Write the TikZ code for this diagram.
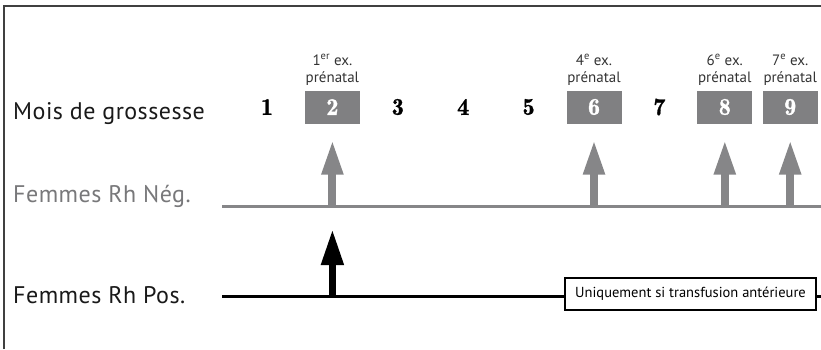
\documentclass[tikz,border=0pt]{standalone}
\usepackage{fontspec}
\newfontfamily\labelfont{PT Sans}
\newfontfamily\labelwide[LetterSpace=2]{PT Sans}
\newfontfamily\numfont[FakeBold=1.2]{Latin Modern Roman Demi}
\usetikzlibrary{positioning, arrows.meta}
\definecolor{boxgray}{RGB}{128,128,130}
\definecolor{neggray}{RGB}{134,134,136}
\definecolor{textgray}{RGB}{120,120,122}

\begin{document}
\begin{tikzpicture}[
    x=1pt, y=-1pt,
    month/.style={font=\numfont\fontsize{24}{24}\selectfont, minimum width=55pt, minimum height=33pt, inner sep=0pt},
    exam/.style={month, fill=boxgray, text=white},
    examnote/.style={font=\labelfont\fontsize{15}{17}\selectfont, align=center, text=black!80, inner sep=0pt},
    rowlabel/.style={font=\labelwide\fontsize{24}{24}\selectfont, anchor=base west, inner sep=0pt},
    negline/.style={draw=neggray, line width=3pt},
    posline/.style={draw=black, line width=3pt},
    negarrow/.style={draw=neggray, line width=8pt, -{Triangle[width=20pt, length=35pt]}},
    posarrow/.style={draw=black, line width=7.5pt, -{Triangle[width=21pt, length=36pt]}},
    notebox/.style={draw, line width=1.2pt, fill=white, minimum width=251pt, minimum height=32pt, font=\labelfont\fontsize{14.5}{17}\selectfont}
  ]
  \useasboundingbox (0,0) rectangle (821,349);
  \draw[black!75, line width=1.5pt] (4,349) -- (4,6) -- (821,6); % frame

  % row labels
  \node[rowlabel, text=black!90] (moislbl) at (13,119) {Mois de grossesse};
  \node[rowlabel, text=textgray] (neglbl) at (13,202) {Femmes Rh Nég.};
  \node[rowlabel, text=black!90] (poslbl) at (13,303) {Femmes Rh Pos.};

  % months of pregnancy
  \node[month] (m1) at (267,107) {1};
  \node[exam, right=10pt of m1] (m2) {2};
  \node[month, right=10pt of m2] (m3) {3};
  \node[month, right=10pt of m3] (m4) {4};
  \node[month, right=10pt of m4] (m5) {5};
  \node[exam, right=10pt of m5] (m6) {6};
  \node[month, right=10pt of m6] (m7) {7};
  \node[exam, right=10pt of m7] (m8) {8};
  \node[exam, right=10pt of m8] (m9) {9};

  % prenatal exams
  \node[examnote, above=5pt of m2] (ex1) {1\textsuperscript{er} ex.\\prénatal};
  \node[examnote, above=5pt of m6] (ex4) {4\textsuperscript{e} ex.\\prénatal};
  \node[examnote, above=5pt of m8] (ex6) {6\textsuperscript{e} ex.\\prénatal};
  \node[examnote, above=5pt of m9] (ex7) {7\textsuperscript{e} ex.\\prénatal};

  % Rh negative women
  \coordinate (neg) at (222,206);
  \coordinate (negend) at (821,206);
  \draw[negline] (neg) -- (negend);
  \foreach \m in {m2, m6, m8, m9} {
    \draw[negarrow] (\m |- neg) -- ([yshift=-16pt]\m.south);
  }

  % Rh positive women
  \coordinate (pos) at (222,296);
  \coordinate (posend) at (821,296);
  \path (m2 |- pos) ++(0,-67) coordinate (postip);
  \draw[posline] (pos) -- (posend);
  \draw[posarrow] (m2 |- pos) -- (postip);
  \node[notebox] (transf) at (690.5,294) {Uniquement si transfusion antérieure};
\end{tikzpicture}
\end{document}
